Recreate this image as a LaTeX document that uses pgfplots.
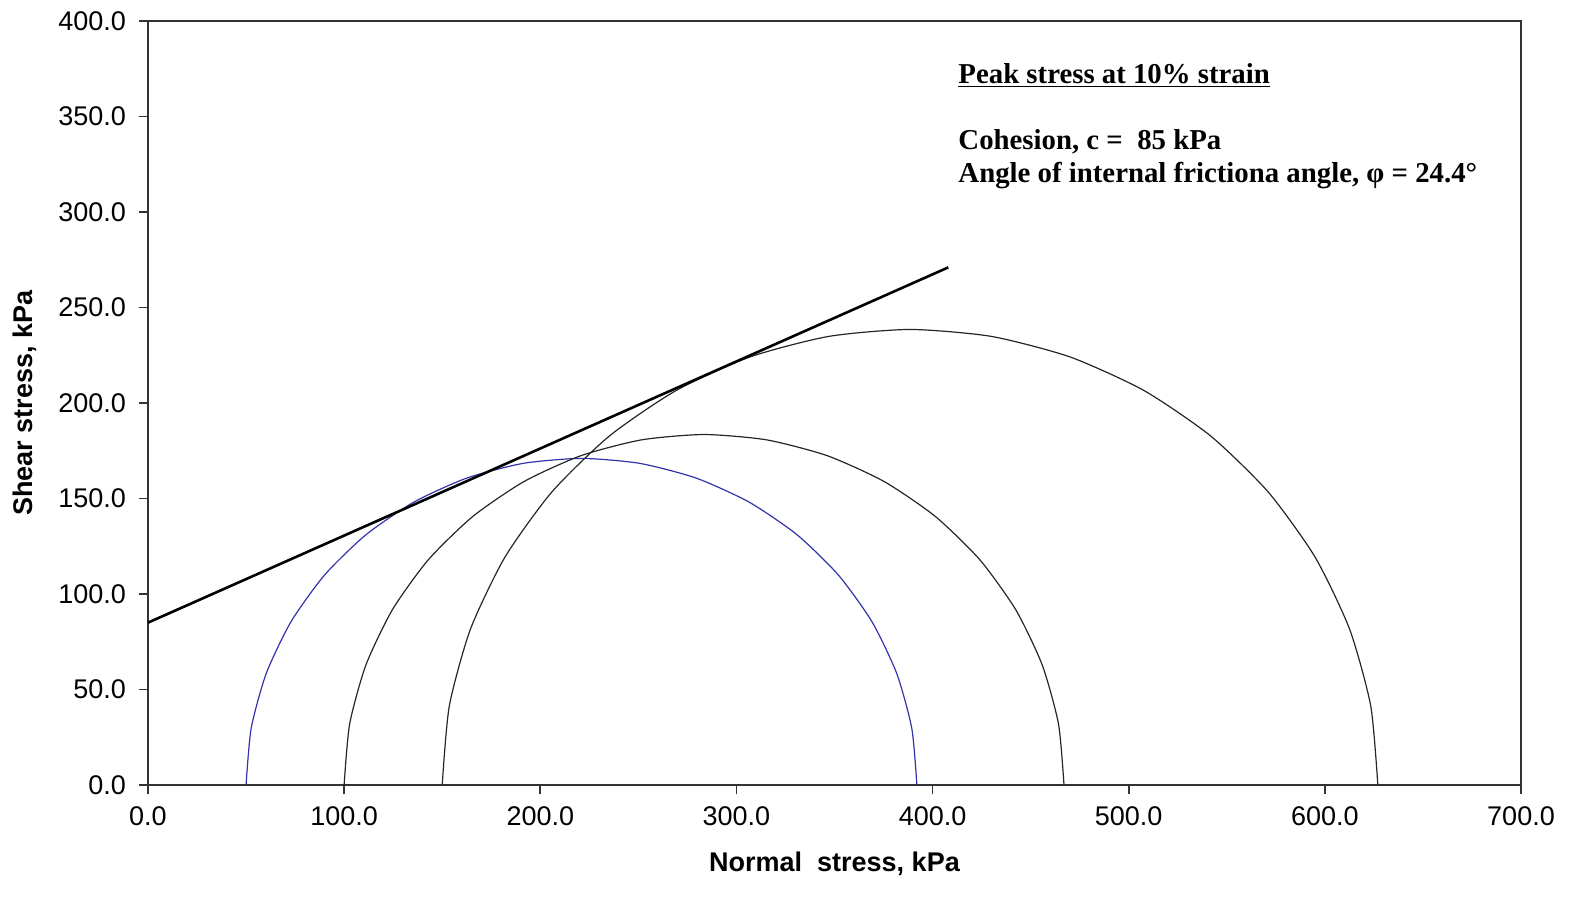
\documentclass[border=0pt]{standalone}
\usepackage{fontspec}
\setmainfont{Liberation Sans}
\newfontfamily\seriffont{Liberation Serif}
\usepackage{pgfplots}
\pgfplotsset{compat=1.18}
\definecolor{circblue}{RGB}{51,51,170}
\begin{document}
\begin{tikzpicture}
\begin{axis}[name=ax,
  scale only axis, width=686.5pt, height=382pt,
  xmin=0, xmax=700, ymin=0, ymax=400,
  xtick={0,100,...,700}, ytick={0,50,...,400},
  xtick pos=bottom, ytick pos=left, tick align=outside,
  major tick length=4.5pt,
  axis line style={line width=0.8pt, black!80},
  tick style={line width=0.8pt, black!80},
  /pgf/number format/assume math mode=true,
  /pgf/number format/.cd, fixed, fixed zerofill, precision=1, /pgfplots/.cd,
  ticklabel style={font=\fontsize{13.5}{16}\selectfont},
  xticklabel style={yshift=-3pt},
  yticklabel style={xshift=-3pt},
  xlabel={\bfseries Normal\ \ stress, kPa},
  ylabel={\bfseries Shear stress, kPa},
  label style={font=\fontsize{13.5}{16}\selectfont},
  xlabel style={yshift=-6pt},
  ylabel style={yshift=4pt},
  clip=false,
]
\addplot[circblue, line width=0.6pt, smooth, tension=0.4] coordinates {
(50,0) (52.60,29.69) (60.31,58.49) (72.91,85.5) (90.00,109.92) (111.08,131.00) (135.5,148.09) (162.51,160.69) (191.31,168.40) (221,171)
(250.69,168.40) (279.49,160.69) (306.5,148.09) (330.92,131.00) (352.00,109.92) (369.09,85.5) (381.69,58.49) (389.40,29.69) (392,0)};
\addplot[black!85, line width=0.6pt, smooth, tension=0.4] coordinates {
(100,0) (102.79,31.87) (111.07,62.76) (124.58,91.75) (142.93,117.95) (165.55,140.57) (191.75,158.92) (220.74,172.43) (251.64,180.71) (283.5,183.5)
(315.36,180.71) (346.26,172.43) (375.25,158.92) (401.45,140.57) (424.07,117.95) (442.42,91.75) (455.93,62.76) (464.21,31.87) (467,0)};
\addplot[black!85, line width=0.6pt, smooth, tension=0.4] coordinates {
(150,0) (153.62,41.42) (164.38,81.57) (181.95,119.25) (205.80,153.31) (235.19,182.70) (269.25,206.55) (306.93,224.12) (347.08,234.88) (388.5,238.5)
(429.92,234.88) (470.07,224.12) (507.75,206.55) (541.81,182.70) (571.20,153.31) (595.05,119.25) (612.62,81.57) (623.38,41.42) (627,0)};
\addplot[black, line width=1.3pt] coordinates {(0,85) (408,271)};
\node[anchor=base west, inner sep=0pt, font=\seriffont\bfseries\fontsize{14.4}{16}\selectfont] at (axis cs:413,367.5) {\underline{Peak stress at 10\% strain}};
\node[anchor=base west, inner sep=0pt, font=\seriffont\bfseries\fontsize{14.4}{16}\selectfont] at (axis cs:413,332.5) {Cohesion, c =\ \ 85 kPa};
\node[anchor=base west, inner sep=0pt, font=\seriffont\bfseries\fontsize{14.4}{16}\selectfont] at (axis cs:413,315.2) {Angle of internal frictiona angle, φ = 24.4°};
\end{axis}
\pgfresetboundingbox
\path ([xshift=-74pt,yshift=-57pt]ax.south west) rectangle ([xshift=36pt,yshift=10.5pt]ax.north east);
\end{tikzpicture}
\end{document}
